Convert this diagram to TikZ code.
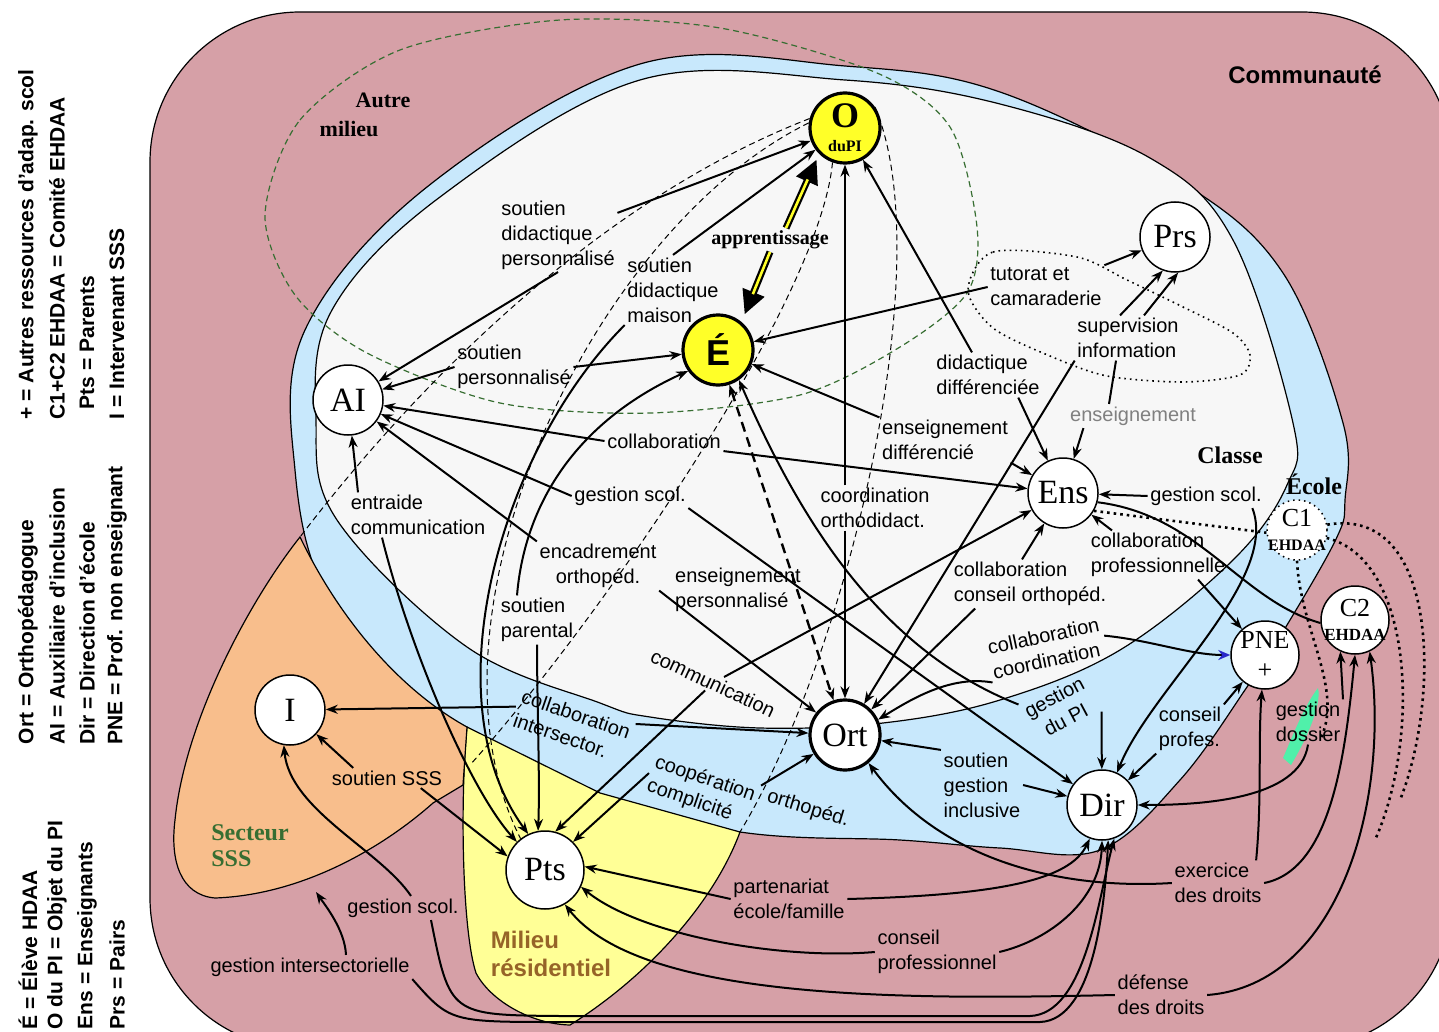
\documentclass[tikz,border=0pt]{standalone}
\usepackage{fontspec}
\setmainfont{Liberation Sans}
\newfontfamily\figserif{Liberation Serif}
\usetikzlibrary{arrows.meta,positioning}

\definecolor{commpink}{RGB}{214,160,167}
\definecolor{ecoleblue}{RGB}{200,232,252}
\definecolor{classewhite}{RGB}{247,247,247}
\definecolor{sssorange}{RGB}{248,190,140}
\definecolor{milieuyellow}{RGB}{255,255,150}
\definecolor{nodeyellow}{RGB}{255,255,40}
\definecolor{mint}{RGB}{80,240,170}
\definecolor{sssgreen}{RGB}{55,110,50}
\definecolor{milieubrown}{RGB}{150,100,40}
\definecolor{arrowblue}{RGB}{40,40,200}

\tikzset{every picture/.style={line width=0.75pt}}

\begin{document}
\begin{tikzpicture}[x=0.5pt,y=0.5pt,yscale=-1,
	actor/.style={circle,draw,fill=white,minimum size=35pt,inner sep=0pt,font=\figserif\fontsize{17}{17}\selectfont},
	objet/.style={actor,fill=nodeyellow,line width=1.6pt},
	intxt/.style={inner sep=0pt,align=center},
	lbl/.style={font=\fontsize{10}{12.5}\selectfont,align=left,inner sep=1pt},
	zone/.style={draw=black,line width=0.6pt},
	rel/.style={-{Stealth[length=6pt,width=4.5pt]},line width=1pt},
	dashrel/.style={{Stealth[length=6pt,width=4.5pt]}-{Stealth[length=6pt,width=4.5pt]},line width=1.2pt,dash pattern=on 5pt off 3pt},
	link/.style={line width=1pt},
	guide/.style={dash pattern=on 3pt off 2pt,line width=0.5pt},
	dotlink/.style={dotted,line width=1.3pt},
	legend/.style={rotate=90,anchor=west,inner sep=0pt,font=\bfseries\fontsize{10.5}{10.5}\selectfont},
	bigarrow/.style={line width=3.5pt,-{Triangle[length=12pt,width=11pt]}},
	bigcore/.style={line width=1.3pt,draw=nodeyellow},
	zonetitle/.style={font=\figserif\bfseries\fontsize{12}{13}\selectfont,inner sep=0pt,align=left}
]

	\useasboundingbox (0,0) rectangle (1439,1032);

	% zones
	\draw[zone,fill=commpink,rounded corners=75pt] (150,12) rectangle (1452,1048);
	\draw[zone,fill=ecoleblue] plot[smooth cycle,tension=0.6] coordinates {(427,187) (640,64) (845,66) (1000,92) (1183,183) (1283,273) (1343,423) (1345,500) (1337,537) (1290,620) (1247,687) (1180,780) (1100,850) (1000,848) (900,840) (740,832) (560,790) (440,715) (330,600) (295,470) (305,330)};
	\draw[zone,fill=classewhite] plot[smooth cycle,tension=0.6] coordinates {(440,197) (640,80) (845,80) (1000,104) (1150,158) (1233,240) (1293,423) (1287,485) (1233,560) (1120,650) (1000,700) (883,723) (760,728) (650,717) (600,703) (467,647) (337,520) (316,420) (332,310)};
	\draw[zone,fill=milieuyellow] (467,727) -- (600,793) -- (740,832) .. controls (715,900) and (650,975) .. (570,1025) .. controls (530,1024) and (490,1000) .. (476,973) .. controls (462,930) and (460,800) .. (467,727) -- cycle;
	\draw[zone,fill=sssorange] (300,537) .. controls (340,620) and (400,690) .. (467,727) -- (463,785) -- (433,803) .. controls (380,850) and (300,895) .. (215,898) .. controls (180,895) and (170,860) .. (175,820) .. controls (185,720) and (250,600) .. (300,537) -- cycle;
	\fill[mint] (1283,758) .. controls (1295,730) and (1305,705) .. (1318,688) .. controls (1322,705) and (1306,740) .. (1291,765) -- cycle;

	\draw[draw=sssgreen,dash pattern=on 3pt off 2pt,line width=0.6pt] plot[smooth cycle] coordinates {(265,215) (300,120) (400,50) (560,20) (720,28) (877,73) (950,127) (977,227) (967,293) (900,347) (800,395) (650,413) (500,403) (367,353) (295,295)};
	\draw[dotted,line width=0.8pt] plot[smooth cycle] coordinates {(968,290) (993,252) (1077,257) (1127,280) (1183,307) (1233,333) (1250,355) (1240,375) (1183,382) (1107,376) (1050,356) (993,328)};

	% zone names
	\node[font=\bfseries\fontsize{12}{13}\selectfont,inner sep=0pt] (communaute) at (1305,75) {Communauté};
	\node[zonetitle] (classeT) at (1230,455) {Classe};
	\node[zonetitle] (ecoleT) at (1314,484) {École};
	\node[zonetitle,font=\figserif\bfseries\fontsize{11}{14.5}\selectfont] (autreT) at (365,115) {\hspace*{18pt}Autre\\milieu};
	\node[zonetitle,text=sssgreen] (secteurT) at (250,846) {Secteur\\SSS};
	\node[zonetitle,font=\bfseries\fontsize{12}{14}\selectfont,text=milieubrown] (milieuT) at (551,954) {Milieu\\résidentiel};

	% legend
	\node[legend] (leg1a) at (28,1030) {É = Élève HDAA};
	\node[legend] (leg1b) at (28,745) {Ort = Orthopédagogue};
	\node[legend] (leg1c) at (28,420) {+ = Autres ressources d'adap. scol};
	\node[legend] (leg2a) at (57,1030) {O du PI = Objet du PI};
	\node[legend] (leg2b) at (57,745) {AI = Auxiliaire d'inclusion};
	\node[legend] (leg2c) at (57,420) {C1+C2 EHDAA = Comité EHDAA};
	\node[legend] (leg3a) at (87,1030) {Ens = Enseignants};
	\node[legend] (leg3b) at (87,745) {Dir = Direction d'école};
	\node[legend] (leg3c) at (87,410) {Pts = Parents};
	\node[legend] (leg4a) at (117,1030) {Prs = Pairs};
	\node[legend] (leg4b) at (117,745) {PNE = Prof. non enseignant};
	\node[legend] (leg4c) at (117,420) {I = Intervenant SSS};

	% actors
	\node[objet] (O) at (845,128) {};
	\node[intxt,font=\figserif\bfseries] (Otxt) at (O) {{\fontsize{18}{16}\selectfont O}\\{\fontsize{8}{9}\selectfont duPI}};
	\node[objet] (E) at (718,350) {};
	\node[intxt,font=\bfseries\fontsize{18}{18}\selectfont] (Etxt) at (E) {É};
	\node[actor] (AI) at (348,400) {AI};
	\node[actor] (Prs) at (1175,237) {Prs};
	\node[actor] (Ens) at (1063,493) {Ens};
	\node[actor,line width=1.6pt] (Ort) at (845,735) {Ort};
	\node[actor] (Dir) at (1102,805) {Dir};
	\node[actor,minimum size=34pt] (PNE) at (1265,655) {};
	\node[intxt,font=\figserif\fontsize{13}{15}\selectfont] (PNEtxt) at (PNE) {PNE\\+};
	\node[actor,dotted,minimum size=30pt] (C1) at (1297,530) {};
	\node[intxt,font=\figserif] (C1txt) at (C1) {{\fontsize{13}{12}\selectfont C1}\\{\fontsize{8}{9}\selectfont\bfseries EHDAA}};
	\node[actor,minimum size=34pt] (C2) at (1355,620) {};
	\node[intxt,font=\figserif] (C2txt) at (C2) {{\fontsize{13}{12}\selectfont C2}\\{\fontsize{8.5}{9}\selectfont\bfseries EHDAA}};
	\node[actor] (I) at (290,710) {I};
	\node[actor,minimum size=39pt] (Pts) at (545,870) {Pts};

	% relation labels
	\node[lbl] (sdp) at (558,235) {soutien\\didactique\\personnalisé};
	\node[lbl] (sdm) at (673,290) {soutien\\didactique\\maison};
	\node[font=\figserif\bfseries\fontsize{10}{12}\selectfont,inner sep=1pt] (appr) at (770,240) {apprentissage};
	\node[lbl] (spers) at (514,367) {soutien\\personnalisé};
	\node[lbl] (collab) at (664,441) {collaboration};
	\node[lbl] (gscol) at (630,496) {gestion scol.};
	\node[lbl] (entr) at (418,515) {entraide\\communication};
	\node[lbl,align=center] (encad) at (598,566) {encadrement\\orthopéd.};
	\node[lbl] (spar) at (537,620) {soutien\\parental};
	\node[lbl] (epers) at (738,590) {enseignement\\personnalisé};
	\node[lbl] (coord) at (875,508) {coordination\\orthodidact.};
	\node[lbl] (ediff) at (945,440) {enseignement\\différencié};
	\node[lbl] (ddiff) at (988,375) {didactique\\différenciée};
	\node[lbl] (tutor) at (1046,287) {tutorat et\\camaraderie};
	\node[lbl] (superv) at (1128,338) {supervision\\information};
	\node[lbl,text=gray] (enseig) at (1133,416) {enseignement};
	\node[lbl] (gscolb) at (1206,496) {gestion scol.};
	\node[lbl] (cprof) at (1158,555) {collaboration\\professionnelle};
	\node[lbl] (ccons) at (1030,584) {collaboration\\conseil orthopéd.};
	\node[lbl,rotate=12] (ccoord) at (1046,648) {collaboration\\coordination};
	\node[lbl,rotate=28,align=center] (gpi) at (1060,708) {gestion\\du PI};
	\node[lbl] (sgest) at (982,785) {soutien\\gestion\\inclusive};
	\node[lbl] (cpro) at (1190,729) {conseil\\profes.};
	\node[lbl] (gdos) at (1308,722) {gestion\\dossier};
	\node[lbl] (exer) at (1218,883) {exercice\\des droits};
	\node[lbl] (part) at (789,899) {partenariat\\école/famille};
	\node[lbl] (conspro) at (937,952) {conseil\\professionnel};
	\node[lbl] (defense) at (1161,995) {défense\\des droits};
	\node[lbl] (ginter) at (310,967) {gestion intersectorielle};
	\node[lbl] (gscolc) at (403,908) {gestion scol.};
	\node[lbl] (ssss) at (387,778) {soutien SSS};
	\node[lbl,rotate=-19] (cinter) at (572,726) {collaboration\\intersector.};
	\node[lbl,rotate=-25] (comm) at (713,683) {communication};
	\node[lbl,rotate=-19] (coop) at (701,791) {coopération\\complicité};
	\node[lbl,rotate=-17] (ortho) at (808,809) {orthopéd.};

	\coordinate (sssTip) at (300,537);
	\coordinate (sssEdge) at (316,892);
	\coordinate (milTop) at (740,832);
	\coordinate (milLeft) at (470,765);
	\coordinate (dotA) at (1400,800);
	\coordinate (dotB) at (1375,840);
	\coordinate (dotC) at (1320,740);

	% autre milieu guides
	\draw[guide] (O.165) .. controls (600,200) and (420,380) .. (sssTip);
	\draw[guide] (O.172) .. controls (590,230) and (410,620) .. (Pts.128);
	\draw[guide] (O.250) .. controls (820,300) and (600,620) .. (milLeft);
	\draw[guide] (O.35) .. controls (940,260) and (850,650) .. (milTop);

	% C1 links
	\draw[dotlink] (Ens.-30) -- (C1.185);
	\draw[dotlink] (C1.10) .. controls (1440,505) and (1440,700) .. (dotA);
	\draw[dotlink] (C1.-15) .. controls (1415,560) and (1420,740) .. (dotB);
	\draw[dotlink] (C1.south) .. controls (1300,630) and (1345,690) .. (dotC);

	% apprentissage
	\draw[bigarrow,shorten >=3pt] ([xshift=8pt]appr.north) -- (O.225);
	\draw[bigcore,shorten >=14pt] ([xshift=8pt]appr.north) -- (O.225);
	\draw[bigarrow,shorten >=4pt] (appr.south) -- (E.50);
	\draw[bigcore,shorten >=15pt] (appr.south) -- (E.50);

	% relations
	\draw[rel] (sdp) -- (O);
	\draw[rel] (sdp.south) -- (AI);
	\draw[rel] (sdm.north) -- (O);
	\draw[rel] (sdm.south west) .. controls (500,450) and (430,700) .. (Pts.115);
	\draw[rel] (spers.west) -- (AI);
	\draw[rel] (spers.east) -- (E);
	\draw[rel] (collab.west) -- (AI);
	\draw[rel] (collab.south east) -- (Ens);
	\draw[rel] (gscol.west) -- (AI);
	\draw[rel] (gscol.south east) -- (Dir);
	\draw[rel] ([xshift=5pt]entr.north west) -- (AI);
	\draw[rel] ([xshift=17pt]entr.south west) .. controls (410,650) and (470,790) .. (Pts.135);
	\draw[rel] (encad.north west) -- (AI);
	\draw[rel] (encad.south east) -- (Ort);
	\draw[rel] ([xshift=-10pt]spar.north) .. controls (525,500) and (580,420) .. (E.215);
	\draw[rel] (spar.south) .. controls (537,700) and (540,780) .. (Pts.100);
	\draw[dashrel] (E) -- (Ort);
	\draw[rel] (coord.north -| O) -- (O);
	\draw[rel] (coord.south -| Ort) -- (Ort);
	\draw[rel] (ediff.north west) -- (E);
	\draw[rel] (ediff.south east) -- (Ens);
	\draw[rel] ([xshift=-8pt]ddiff.north) -- (O);
	\draw[rel] ([xshift=-12pt]ddiff.south east) -- (Ens);
	\draw[rel] (tutor.west) -- (E);
	\draw[rel] (tutor.north east) -- (Prs);
	\draw[rel] ([xshift=-4pt]superv.north) -- (Prs.-110);
	\draw[rel] ([xshift=8pt]superv.north) -- (Prs.-85);
	\draw[link] ([xshift=-12pt]enseig.north) -- ([xshift=-6pt]superv.south);
	\draw[rel] (superv.south west) -- (Ort);
	\draw[rel] ([xshift=8pt]enseig.south west) -- (Ens);
	\draw[rel] (gscolb.west) -- (Ens);
	\draw[rel] ([xshift=-6pt]gscolb.south east) .. controls (1280,580) and (1150,690) .. (Dir.65);
	\draw[link] (Ens.-15) .. controls (1200,515) and (1240,600) .. (C2.185);
	\draw[rel] ([xshift=12pt]cprof.north west) -- (Ens);
	\draw[rel] ([xshift=20pt]cprof.south) -- (PNE);
	\draw[rel] ([xshift=-4pt]ccons.north) -- (Ens);
	\draw[rel] ([xshift=12pt]ccons.south west) -- (Ort);
	\draw[rel] (ccoord.south west) .. controls (950,675) and (910,700) .. (Ort.25);
	\draw[-{Stealth[length=6pt,width=5pt,color=arrowblue]},line width=1pt] (ccoord.east) .. controls (1150,640) and (1190,655) .. (PNE.west);
	\draw[rel] (gpi.north west) .. controls (880,650) and (800,520) .. (E.-55);
	\draw[rel] (gpi.south east) -- (Dir);
	\draw[rel] (sgest.north west) -- (Ort);
	\draw[rel] (sgest.east) -- (Dir);
	\draw[rel] (cpro.north east) -- (PNE);
	\draw[rel] (cpro.south west) -- (Dir);
	\draw[rel] (gdos.north east) -- (C2.-115);
	\draw[rel] (gdos.south) .. controls (1300,800) and (1200,805) .. (Dir.east);
	\draw[rel] ([xshift=-4pt]exer.north east) .. controls (1262,800) and (1258,740) .. (PNE.-95);
	\draw[rel] (exer.east) .. controls (1330,870) and (1345,760) .. (C2.-90);
	\draw[rel] (exer.west) .. controls (1060,890) and (940,860) .. (Ort.-50);
	\draw[rel] (part.west) -- (Pts.5);
	\draw[rel] (part.east) .. controls (1000,895) and (1070,880) .. (Dir.-110);
	\draw[rel] (conspro.west) .. controls (780,960) and (640,935) .. (Pts.-25);
	\draw[rel] (conspro.east) .. controls (1050,940) and (1100,900) .. (Dir.-90);
	\draw[rel] (defense.west) .. controls (900,1000) and (640,1000) .. (Pts.-60);
	\draw[rel] (defense.east) .. controls (1340,985) and (1390,800) .. (C2.-65);
	\draw[rel] ([xshift=18pt]ginter.north) .. controls (345,930) and (325,905) .. (sssEdge);
	\draw[rel] (ginter.south east) .. controls (450,1022) .. (560,1022) -- (1040,1022) .. controls (1095,1020) and (1105,900) .. (Dir.-80);
	\draw[rel] ([xshift=4pt]gscolc.north) .. controls (380,850) and (290,810) .. (I.-100);
	\draw[rel] ([xshift=14pt]gscolc.south) .. controls (450,1015) .. (560,1016) -- (1030,1016) .. controls (1085,1014) and (1098,900) .. (Dir.-70);
	\draw[rel] ([xshift=12pt]ssss.north west) -- (I);
	\draw[rel] ([xshift=-12pt]ssss.south east) -- (Pts.160);
	\draw[rel] (cinter.west) -- (I);
	\draw[rel] (cinter.north east) -- (Ort);
	\draw[rel] (comm) -- (Ens);
	\draw[rel] (comm) -- (Pts.75);
	\draw[rel] (coop.north east) -- (Ort);
	\draw[rel] (coop.west) -- (Pts.45);

\end{tikzpicture}
\end{document}
